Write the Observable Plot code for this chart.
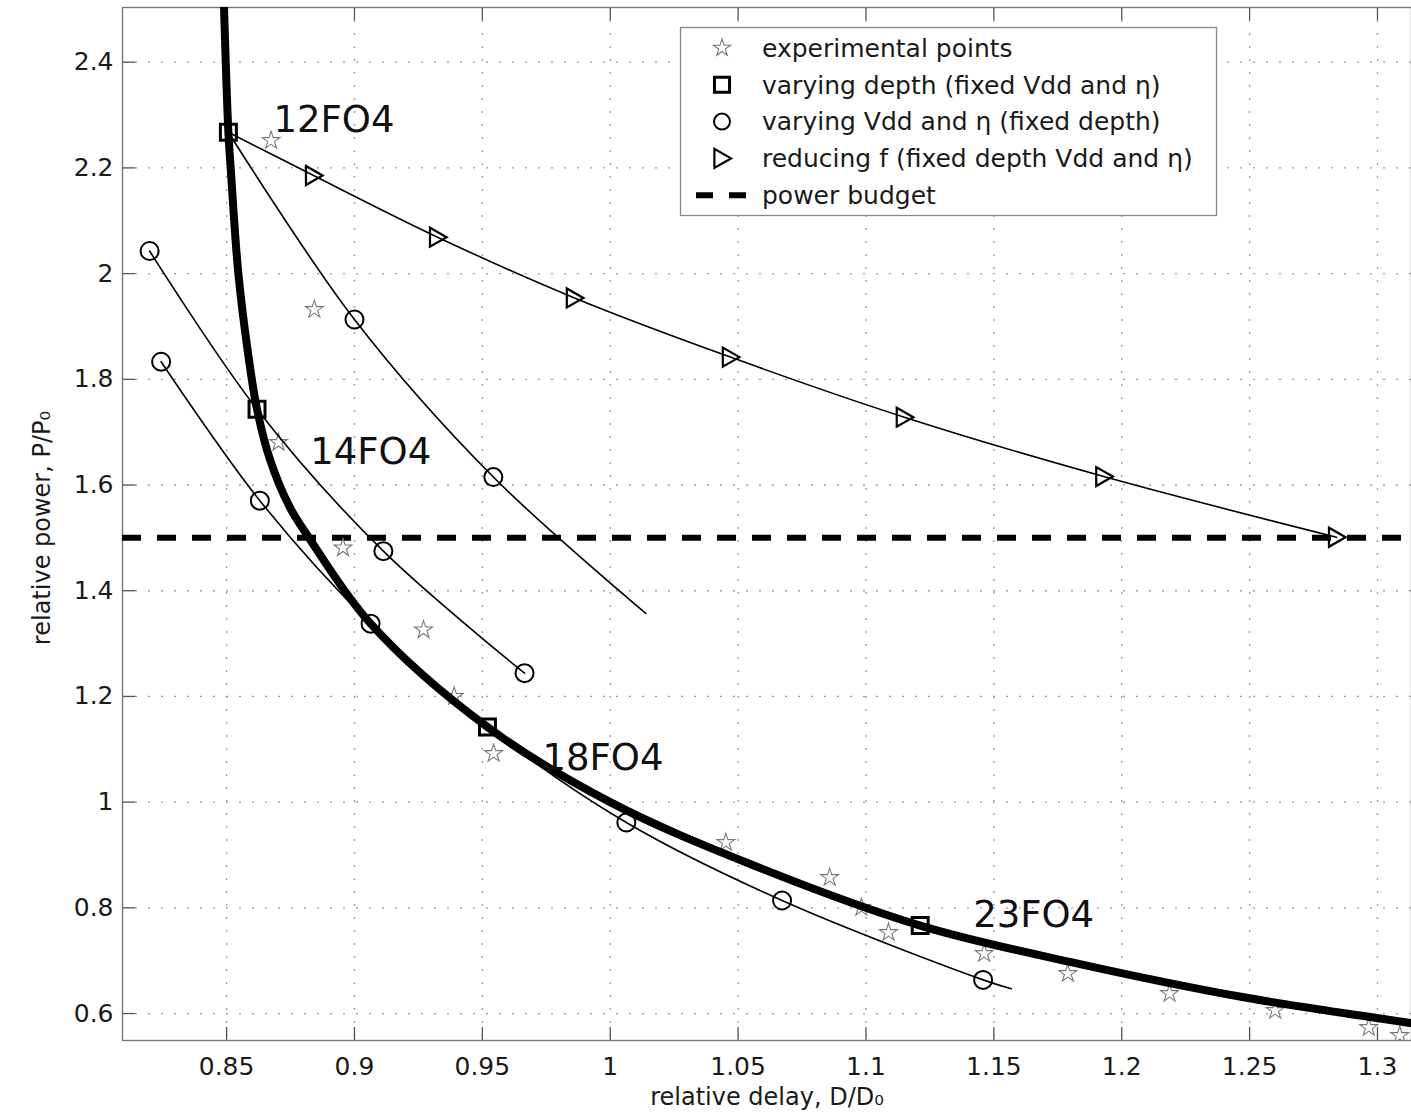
<!DOCTYPE html>
<html><head><meta charset="utf-8">
<script src="https://cdn.jsdelivr.net/npm/d3@7"></script>
<script src="https://cdn.jsdelivr.net/npm/@observablehq/plot@0.6"></script>
<style>html,body{margin:0;padding:0;background:#fff;} #chart{width:1411px;height:1120px;overflow:hidden;}</style>
</head><body><div id="chart"></div>
<script>
// ---- tick values ----
const xTicks = [0.85, 0.9, 0.95, 1, 1.05, 1.1, 1.15, 1.2, 1.25, 1.3];
const yTicks = [0.6, 0.8, 1, 1.2, 1.4, 1.6, 1.8, 2, 2.2, 2.4];

// ---- varying depth curve (fixed Vdd and eta), thick ----
const depthX = [0.8490, 0.8507, 0.8516, 0.8546, 0.8584, 0.8619, 0.8671, 0.8745, 0.8825, 0.9063, 0.9520, 1.0000, 1.0542, 1.1212, 1.1828, 1.2483, 1.2985, 1.3135];
const depthY = [2.5035, 2.2675, 2.2000, 2.0000, 1.8490, 1.7434, 1.6463, 1.5600, 1.4980, 1.3377, 1.1420, 1.0000, 0.8840, 0.7665, 0.6946, 0.6303, 0.5925, 0.5815];

// squares: 12FO4, 14FO4, 18FO4, 23FO4
const squareX = [0.8507, 0.8619, 0.9520, 1.1212];
const squareY = [2.2675, 1.7434, 1.1420, 0.7665];

// ---- varying Vdd and eta (fixed depth) lines ----
const vdd12X = [0.8507, 0.9000, 0.9543, 1.0139];
const vdd12Y = [2.2675, 1.9132, 1.6151, 1.3572];
const vdd14X = [0.8199, 0.8619, 0.9113, 0.9665];
const vdd14Y = [2.0428, 1.7434, 1.4748, 1.2440];
const vdd18X = [0.8244, 0.8630, 0.9063, 0.9520, 1.0063, 1.0672, 1.1458, 1.1568];
const vdd18Y = [1.8333, 1.5704, 1.3377, 1.1420, 0.9614, 0.8138, 0.6637, 0.6468];

// circle markers
const circleX = [0.9000, 0.9543, 0.8199, 0.9113, 0.9665, 0.8244, 0.8630, 0.9063, 1.0063, 1.0672, 1.1458];
const circleY = [1.9132, 1.6151, 2.0428, 1.4748, 1.2440, 1.8333, 1.5704, 1.3377, 0.9614, 0.8138, 0.6637];

// ---- reducing f line ----
const freqX = [0.8507, 0.8840, 0.9325, 0.9860, 1.0470, 1.1150, 1.1930, 1.2840];
const freqY = [2.2675, 2.1856, 2.0689, 1.9540, 1.8420, 1.7283, 1.6160, 1.5012];
const triX = freqX.slice(1);
const triY = freqY.slice(1);

// ---- experimental points ----
const starX = [0.8674, 0.8843, 0.8703, 0.8955, 0.9270, 0.9390, 0.9544, 1.0452, 1.0858, 1.0982, 1.1088, 1.1462, 1.1789, 1.2187, 1.2600, 1.2966, 1.3087];
const starY = [2.2518, 1.9320, 1.6805, 1.4811, 1.3258, 1.2000, 1.0920, 0.9236, 0.8573, 0.8006, 0.7533, 0.7136, 0.6758, 0.6378, 0.6057, 0.5735, 0.5584];

// ---- power budget ----
const budget = [1.5];

// ---- annotations ----
const labelText = ["12FO4", "14FO4", "18FO4", "23FO4"];
const labelX = [0.8683, 0.8827, 0.9735, 1.1419];
const labelY = [2.2897, 1.6624, 1.0825, 0.7854];

const legendLabels = ["experimental points", "varying depth (fixed Vdd and η)", "varying Vdd and η (fixed depth)", "reducing f (fixed depth Vdd and η)", "power budget"];
const xLabel = "relative delay, D/D₀";
const yLabel = "relative power, P/P₀";

// ---- helpers ----
const zip = (xs, ys) => xs.map((x, i) => ({x, y: ys[i]}));
const triangleRight = {
  draw(context, size) {
    const s = Math.sqrt(size / Math.PI);
    context.moveTo(s * 0.95, 0);
    context.lineTo(-s * 0.8, -s);
    context.lineTo(-s * 0.8, s);
    context.closePath();
  }
};

const W = 1411, H = 1120, mT = 7, mB = 80, mL = 122, mR = 0;
const frameH = H - mT - mB, frameW = W - mL - mR;
const fmt = d => String(+d.toFixed(2));

const thin = {x: "x", y: "y", stroke: "#000", strokeWidth: 1.6, curve: "catmull-rom", clip: true};

const plot = Plot.plot({
  width: W, height: H,
  marginTop: mT, marginBottom: mB, marginLeft: mL, marginRight: mR,
  style: {fontFamily: "DejaVu Sans", fontSize: "25px", color: "#1a1a1a", background: "white"},
  x: {domain: [0.8093, 1.3133], ticks: xTicks, tickFormat: fmt, tickSize: 0, tickPadding: 17, label: null},
  y: {domain: [0.549, 2.5035], ticks: yTicks, tickFormat: fmt, tickSize: 0, tickPadding: 9, label: null},
  marks: [
    // dotted grid
    Plot.ruleX(xTicks, {x: d => d, stroke: "#9a9a9a", strokeWidth: 1.3, strokeDasharray: "2,11"}),
    Plot.ruleY(yTicks, {y: d => d, stroke: "#9a9a9a", strokeWidth: 1.3, strokeDasharray: "2,11"}),
    // inward ticks
    Plot.ruleX(xTicks, {x: d => d, stroke: "#555", strokeWidth: 1.3, insetTop: frameH - 13}),
    Plot.ruleX(xTicks, {x: d => d, stroke: "#555", strokeWidth: 1.3, insetBottom: frameH - 13}),
    Plot.ruleY(yTicks, {y: d => d, stroke: "#555", strokeWidth: 1.3, insetRight: frameW - 13}),
    Plot.frame({stroke: "#777", strokeWidth: 1.4}),
    // power budget
    Plot.ruleY(budget, {y: d => d, stroke: "#000", strokeWidth: 6, strokeDasharray: "19,16"}),
    // experimental points
    Plot.dot(zip(starX, starY), {x: "x", y: "y", symbol: "star", r: 5.6, stroke: "#777", strokeWidth: 1.1, fill: "none", clip: true}),
    // thin lines
    Plot.line(zip(vdd12X, vdd12Y), thin),
    Plot.line(zip(vdd14X, vdd14Y), thin),
    Plot.line(zip(vdd18X, vdd18Y), thin),
    Plot.line(zip(freqX, freqY), thin),
    // thick depth curve
    Plot.line(zip(depthX, depthY), {x: "x", y: "y", stroke: "#000", strokeWidth: 8, curve: "catmull-rom", clip: true}),
    // markers
    Plot.dot(zip(circleX, circleY), {x: "x", y: "y", symbol: "circle", r: 9, stroke: "#000", strokeWidth: 2, fill: "none"}),
    Plot.dot(zip(triX, triY), {x: "x", y: "y", symbol: triangleRight, r: 9.5, stroke: "#000", strokeWidth: 2.2, fill: "none"}),
    Plot.dot(zip(squareX, squareY), {x: "x", y: "y", symbol: "square", r: 9, stroke: "#000", strokeWidth: 3, fill: "none"}),
    // annotations
    Plot.text(labelText.map((t, i) => ({t, x: labelX[i], y: labelY[i]})), {x: "x", y: "y", text: "t", textAnchor: "start", fontSize: 37, fill: "#111"}),
    // axis labels
    Plot.text([xLabel], {text: d => d, frameAnchor: "bottom", textAnchor: "middle", dy: 64, fontSize: 24, fill: "#1a1a1a"}),
    Plot.text([yLabel], {text: d => d, frameAnchor: "left", textAnchor: "middle", lineAnchor: "middle", dx: -80, dy: 4, rotate: -90, fontSize: 24, fill: "#1a1a1a"})
  ]
});

document.getElementById("chart").appendChild(plot);

// ---- legend (inside the axes, top right) ----
const svg = d3.select(plot.tagName.toLowerCase() === "svg" ? plot : plot.querySelector("svg"));
const lg = svg.append("g").attr("font-family", "DejaVu Sans").attr("font-size", 25).attr("text-anchor", "start");
lg.append("rect").attr("x", 680.5).attr("y", 27.5).attr("width", 536).attr("height", 188)
  .attr("fill", "white").attr("stroke", "#888").attr("stroke-width", 1.3);
const rowY = i => 48 + i * 36.8;
const symX = 722;
const sym = (type, r) => d3.symbol().type(type).size(Math.PI * r * r)();
lg.append("path").attr("d", sym(d3.symbolStar, 5.4)).attr("transform", `translate(${symX},${rowY(0)})`)
  .attr("fill", "none").attr("stroke", "#777").attr("stroke-width", 1.1);
lg.append("path").attr("d", sym(d3.symbolSquare, 8.5)).attr("transform", `translate(${symX},${rowY(1)})`)
  .attr("fill", "none").attr("stroke", "#000").attr("stroke-width", 3);
lg.append("path").attr("d", sym(d3.symbolCircle, 8)).attr("transform", `translate(${symX},${rowY(2)})`)
  .attr("fill", "none").attr("stroke", "#000").attr("stroke-width", 2);
lg.append("path").attr("d", sym(triangleRight, 9.5)).attr("transform", `translate(${symX},${rowY(3)})`)
  .attr("fill", "none").attr("stroke", "#000").attr("stroke-width", 2.2);
lg.append("line").attr("x1", 696).attr("x2", 747).attr("y1", rowY(4)).attr("y2", rowY(4))
  .attr("stroke", "#000").attr("stroke-width", 6).attr("stroke-dasharray", "17,16");
legendLabels.forEach((t, i) => {
  lg.append("text").attr("x", 762).attr("y", rowY(i)).attr("dy", "0.35em").attr("fill", "#1a1a1a").text(t);
});
</script>
</body></html>
